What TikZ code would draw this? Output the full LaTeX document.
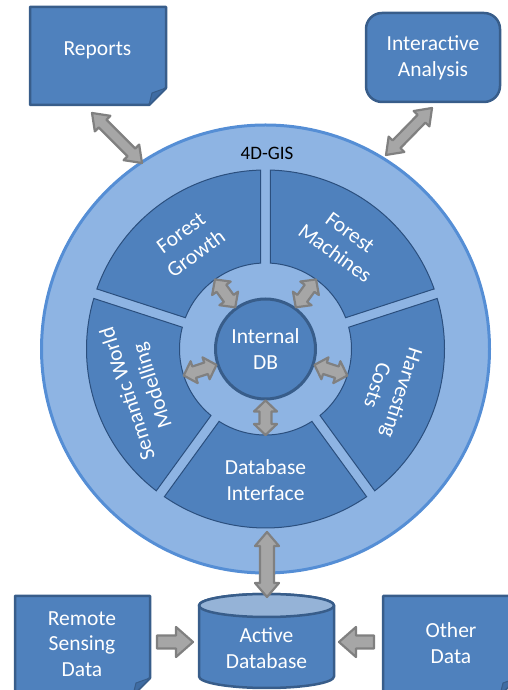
\documentclass[tikz,border=0pt]{standalone}
\usepackage{fontspec}
\setmainfont{Carlito}
\usepackage{xcolor}
\definecolor{gisRing}{HTML}{8EB4E3}
\definecolor{gisRingLine}{HTML}{558ED5}
\definecolor{gisBlue}{HTML}{4F81BD}
\definecolor{gisLine}{HTML}{385D8A}
\definecolor{gisSegLine}{HTML}{2B4F7E}
\definecolor{gisTop}{HTML}{95B3D7}
\definecolor{gisFold}{HTML}{3F6CA3}
\definecolor{arrowFill}{HTML}{A6A6A6}
\definecolor{arrowLine}{HTML}{808080}
\usepackage{tikz}
\usetikzlibrary{calc}
\tikzset{every node/.style={font=\fontsize{21.5}{25.7}\selectfont, text=white, align=center}}
\tikzset{page/.style={draw=gisLine, fill=gisBlue, line width=2.5pt, line join=round}}
\tikzset{fold/.style={draw=gisLine, fill=gisFold, line width=1pt, line join=round}}
\tikzset{segment/.style={draw=gisSegLine, fill=gisBlue, line width=1pt}}
\tikzset{blockarrow/.style={draw=arrowLine, fill=arrowFill, line width=2.2pt, line join=round}}
% from, to, shaft half width, head half width, head length
\newcommand{\twoway}[5]{%
  \draw[blockarrow] (#1)
    -- ($(#1)!#5!(#2)!#4!90:(#2)$) -- ($(#1)!#5!(#2)!#3!90:(#2)$)
    -- ($(#2)!#5!(#1)!#3!-90:(#1)$) -- ($(#2)!#5!(#1)!#4!-90:(#1)$)
    -- (#2)
    -- ($(#2)!#5!(#1)!#4!90:(#1)$) -- ($(#2)!#5!(#1)!#3!90:(#1)$)
    -- ($(#1)!#5!(#2)!#3!-90:(#2)$) -- ($(#1)!#5!(#2)!#4!-90:(#2)$)
    -- cycle;}
\newcommand{\oneway}[5]{%
  \draw[blockarrow] ($(#1)!#3!90:(#2)$)
    -- ($(#2)!#5!(#1)!#3!-90:(#1)$) -- ($(#2)!#5!(#1)!#4!-90:(#1)$)
    -- (#2)
    -- ($(#2)!#5!(#1)!#4!90:(#1)$) -- ($(#2)!#5!(#1)!#3!90:(#1)$)
    -- ($(#1)!#3!-90:(#2)$) -- cycle;}
% left, bottom, right, top
\newcommand{\notepage}[4]{%
  \draw[page] (#1,#4) -- (#3,#4) -- (#3,#2+17) -- (#3-17,#2) -- (#1,#2) -- cycle;
  \draw[fold] (#3,#2+17) -- (#3-14,#2+12) -- (#3-17,#2) -- cycle;}

\begin{document}
\begin{tikzpicture}[x=1pt, y=1pt]
\useasboundingbox (0,0) rectangle (508,690);
\clip (0,0) rectangle (508,690);
%--------------------
% the 4D-GIS ring
%--------------------
\node[circle, draw=gisRingLine, fill=gisRing, line width=3pt, minimum size=448pt](gis) at (265.5,341){};
\node[text=black, font=\fontsize{19}{21}\selectfont](gistitle) at (267,537){4D-GIS};
\foreach \a/\txt/\rot [count=\i] in {126/{Forest\\Growth}/36, 54/{Forest\\Machines}/-36, 342/{Harvesting\\Costs}/-108, 270/{Database\\Interface}/0, 198/{Semantic World\\Modelling}/108}{
  \draw[segment] ($(gis)+(\a-34.4:179)$) arc[start angle=\a-34.4, end angle=\a+34.4, radius=179]
    -- ($(gis)+(\a+32.67:86)$) arc[start angle=\a+32.67, end angle=\a-32.67, radius=86] -- cycle;
  \node[rotate=\rot](seg\i) at ($(gis)+(\a:131)$){\txt};
}

%--------------------
% internal DB in the middle
%--------------------
\node[circle, draw=gisLine, fill=gisBlue, line width=3pt, minimum size=100pt, inner sep=0pt](idb) at (gis){Internal\\DB};
\foreach \a [count=\i] in {126,54,342,270,198}{
  \coordinate (inner\i) at ($(gis)+(\a:86)$);
  \twoway{idb.\a}{inner\i}{6pt}{11.5pt}{11pt}
}

%--------------------
% reports and interactive analysis
%--------------------
\notepage{30}{585}{166}{683}
\node(reports) at (97.5,640){Reports};
\node[page, rounded corners=16pt, minimum width=134pt, minimum height=89pt](analysis) at (433,632.5){Interactive\\Analysis};
\coordinate (repEnd) at (92,577);
\coordinate (repGis) at (142,527);
\twoway{repEnd}{repGis}{5.5pt}{11pt}{15pt}
\coordinate (anaEnd) at (432,582);
\coordinate (anaGis) at (386,535);
\twoway{anaEnd}{anaGis}{5.5pt}{11pt}{15pt}

%--------------------
% active database and its sources
%--------------------
\draw[page] (199,84.5) -- (199,13.5) arc[start angle=180, end angle=360, x radius=67.5, y radius=11.5]
  -- (334,84.5) arc[start angle=0, end angle=180, x radius=67.5, y radius=11.5] -- cycle;
\draw[page, fill=gisTop] (266.5,84.5) ellipse[x radius=67.5, y radius=11.5];
\node(activedb) at (266.5,42){Active\\Database};
\notepage{15}{-5}{150}{94}
\node(remote) at (82,46){Remote\\Sensing\\Data};
\notepage{383}{-5}{517}{94}
\node(other) at (451,47){Other\\Data};
\coordinate (dbiEnd) at (267,158);
\coordinate (adbTop) at (267,93);
\twoway{dbiEnd}{adbTop}{7pt}{12pt}{14pt}
\coordinate (remEnd) at (157,48);
\coordinate (adbLeft) at (193,48);
\oneway{remEnd}{adbLeft}{6.5pt}{15pt}{17pt}
\coordinate (othEnd) at (374,48);
\coordinate (adbRight) at (339,48);
\oneway{othEnd}{adbRight}{6.5pt}{15pt}{17pt}
\end{tikzpicture}
\end{document}
